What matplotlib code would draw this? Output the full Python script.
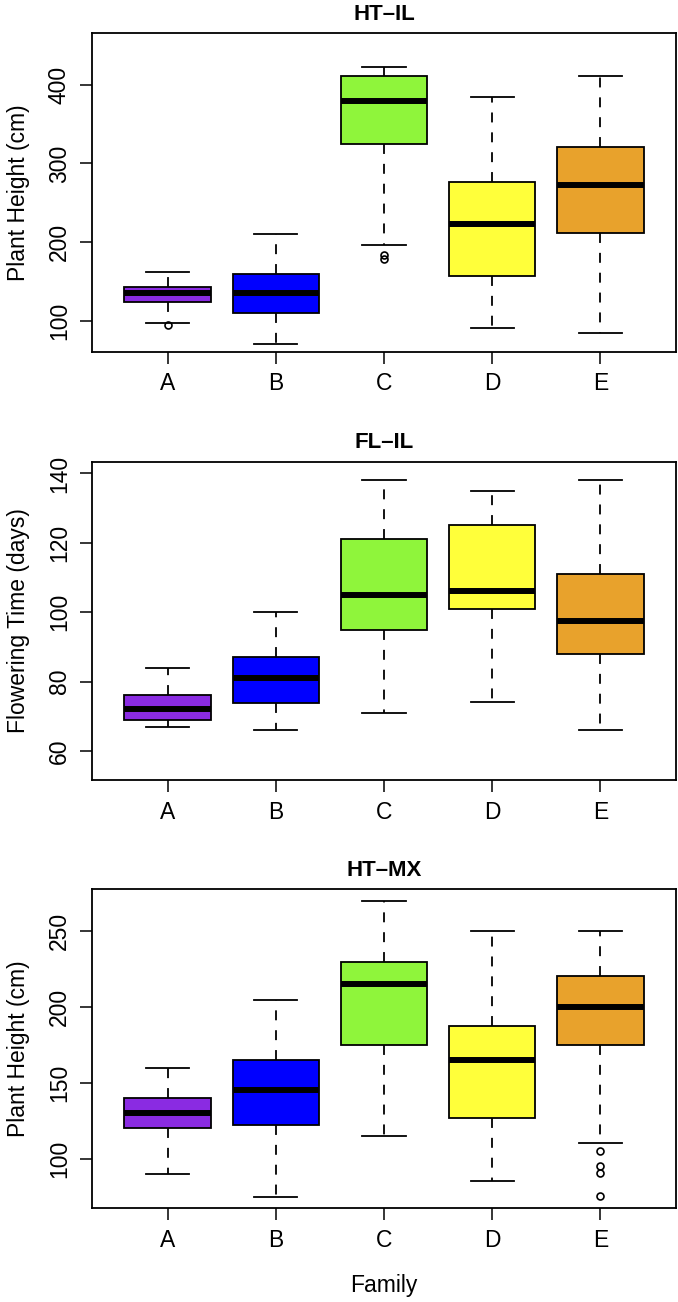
import matplotlib
matplotlib.use("Agg")
import matplotlib.pyplot as plt

plt.rcParams['font.family'] = ['Liberation Sans', 'DejaVu Sans']

# data
families = ["A", "B", "C", "D", "E"]
box_colors = ["#8A2BE2", "#0000FF", "#8FF53B", "#FFFF3A", "#E8A22C"]

# HT-IL
ht_il_lo = [96.6, 70.8, 196.0, 90.3, 84.8]
ht_il_q1 = [123.7, 110.2, 324.3, 156.7, 211.7]
ht_il_med = [134.7, 135.5, 379.7, 222.7, 272.2]
ht_il_q3 = [142.7, 159.2, 411.9, 276.0, 320.9]
ht_il_hi = [162.2, 210.0, 423.3, 385.2, 411.9]
ht_il_out = [[94.5], [], [184.0, 178.0], [], []]

# FL-IL
fl_il_lo = [67.0, 66.0, 71.0, 74.0, 66.0]
fl_il_q1 = [68.9, 73.9, 95.0, 100.9, 88.0]
fl_il_med = [72.0, 81.0, 105.1, 106.0, 97.5]
fl_il_q3 = [76.0, 87.1, 121.1, 125.0, 111.0]
fl_il_hi = [84.0, 100.0, 138.0, 135.0, 138.0]
fl_il_out = [[], [], [], [], []]

# HT-MX
ht_mx_lo = [90.3, 75.1, 115.2, 85.3, 110.1]
ht_mx_q1 = [120.0, 122.0, 175.0, 126.8, 175.0]
ht_mx_med = [130.3, 145.1, 215.0, 165.1, 200.0]
ht_mx_q3 = [140.0, 165.1, 229.8, 187.3, 220.1]
ht_mx_hi = [160.0, 204.9, 270.0, 250.0, 250.0]
ht_mx_out = [[], [], [], [], [105.3, 95.6, 90.5, 75.4]]

panels = [
    ("HT\u2013IL", "Plant Height (cm)", ht_il_lo, ht_il_q1, ht_il_med, ht_il_q3, ht_il_hi, ht_il_out,
     (60.6, 465.6), [100, 200, 300, 400]),
    ("FL\u2013IL", "Flowering Time (days)", fl_il_lo, fl_il_q1, fl_il_med, fl_il_q3, fl_il_hi, fl_il_out,
     (51.6, 143.4), [60, 80, 100, 120, 140]),
    ("HT\u2013MX", "Plant Height (cm)", ht_mx_lo, ht_mx_q1, ht_mx_med, ht_mx_q3, ht_mx_hi, ht_mx_out,
     (67.45, 277.5), [100, 150, 200, 250]),
]

fig = plt.figure(figsize=(6.78, 13.02), dpi=100)

# axes boxes in figure fractions (left, bottom, width, height)
ax_pos = [
    [0.1357, 0.7299, 0.8614, 0.2445],
    [0.1357, 0.4009, 0.8614, 0.2445],
    [0.1357, 0.0720, 0.8614, 0.2450],
]

for i, (title, ylab, lo, q1, med, q3, hi, out, ylim, yticks) in enumerate(panels):
    ax = fig.add_axes(ax_pos[i])

    stats = []
    for j in range(len(families)):
        stats.append({"whislo": lo[j], "q1": q1[j], "med": med[j], "q3": q3[j],
                      "whishi": hi[j], "fliers": out[j], "label": families[j]})

    bp = ax.bxp(stats, positions=range(1, 6), widths=0.8, capwidths=0.4,
                patch_artist=True, showfliers=True,
                boxprops=dict(linewidth=1.3, edgecolor="black"),
                medianprops=dict(linewidth=4.3, color="black", solid_capstyle="butt"),
                whiskerprops=dict(linewidth=1.3, color="black", linestyle=(0, (5.5, 5.5))),
                capprops=dict(linewidth=1.3, color="black"),
                flierprops=dict(marker="o", markerfacecolor="none", markeredgecolor="black",
                                markersize=5, markeredgewidth=1.2))
    for patch, c in zip(bp["boxes"], box_colors):
        patch.set_facecolor(c)

    ax.set_xlim(0.3, 5.7)
    ax.set_ylim(ylim)
    ax.set_yticks(yticks)
    ax.set_xticks(range(1, 6))
    ax.set_xticklabels(families)

    ax.tick_params(axis="both", direction="out", length=8.8, width=1.1, labelsize=16.5)
    ax.tick_params(axis="x", pad=6)
    ax.tick_params(axis="y", pad=6.5)
    for lab in ax.get_yticklabels():
        lab.set_rotation(90)
        lab.set_va("center")

    for sp in ax.spines.values():
        sp.set_linewidth(1.3)

    ax.set_title(title, fontsize=16, fontweight="bold", pad=9.5)
    ax.set_ylabel(ylab, fontsize=16.5, labelpad=13)

    if i == 2:
        ax.set_xlabel("Family", fontsize=16.5, labelpad=16)

plt.savefig("out.png", dpi=100)
